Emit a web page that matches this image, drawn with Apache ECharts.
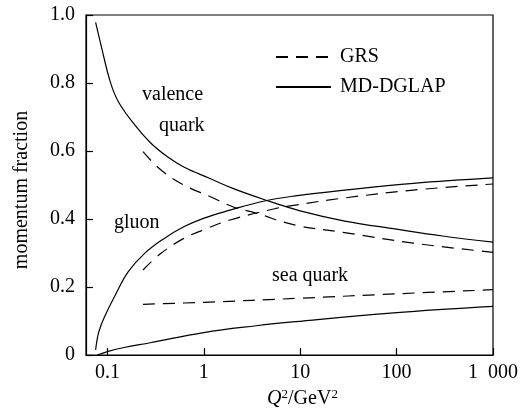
<!DOCTYPE html>
<html>
<head>
<meta charset="utf-8">
<script src="https://cdn.jsdelivr.net/npm/echarts@6/dist/echarts.min.js"></script>
<style>html,body{margin:0;padding:0;background:#fff}#c{width:521px;height:415px}</style>
</head>
<body>
<div id="c"></div>
<script>
// Q^2 (GeV^2) and momentum fraction
const mdValenceQ2 = [0.0755, 0.0883, 0.107, 0.130, 0.193, 0.285, 0.42, 0.62, 1.16, 2.0, 4.35, 10, 29, 100, 300, 1000];
const mdValence   = [0.978, 0.897, 0.804, 0.745, 0.676, 0.622, 0.583, 0.553, 0.519, 0.49, 0.456, 0.424, 0.394, 0.370, 0.35, 0.332];

const mdGluonQ2 = [0.0755, 0.0816, 0.0954, 0.1206, 0.1647, 0.2436, 0.389, 0.62, 0.99, 1.87, 4.27, 8.9, 28.9, 149, 1000];
const mdGluon   = [0.015, 0.069, 0.118, 0.176, 0.245, 0.299, 0.343, 0.377, 0.402, 0.426, 0.453, 0.468, 0.485, 0.505, 0.521];

const mdSeaQ2 = [0.0786, 0.1, 0.149, 0.278, 1.0, 3.5, 8.9, 93, 1000];
const mdSea   = [0.0, 0.01, 0.022, 0.036, 0.066, 0.086, 0.098, 0.124, 0.143];

const grsValenceQ2 = [0.234, 0.36, 0.62, 1.16, 2.0, 3.5, 8.9, 28.9, 149, 1000];
const grsValence   = [0.598, 0.544, 0.5, 0.466, 0.436, 0.417, 0.382, 0.36, 0.329, 0.302];

const grsGluonQ2 = [0.234, 0.36, 0.62, 0.99, 1.87, 5.6, 8.9, 28.9, 149, 1000];
const grsGluon   = [0.25, 0.299, 0.343, 0.368, 0.397, 0.431, 0.441, 0.462, 0.485, 0.503];

const grsSeaQ2 = [0.234, 1, 10, 100, 1000];
const grsSea   = [0.149, 0.155, 0.167, 0.18, 0.192];

const xTickLabels = {'0.1': '0.1', '1': '1', '10': '10', '100': '100', '1000': '1\u2002000'};
const legendNames = ['GRS', 'MD-DGLAP'];

const FONT = "'Liberation Serif', 'Times New Roman', serif";
const zip = (xs, ys) => xs.map((x, i) => [x, ys[i]]);

function lineSeries(name, xs, ys, dashed) {
  return {
    name: name,
    type: 'line',
    data: zip(xs, ys),
    showSymbol: false,
    symbol: 'none',
    smooth: 0.4,
    silent: true,
    lineStyle: { color: '#000', width: 1.2, type: dashed ? [12, 8] : 'solid' },
    itemStyle: { color: '#000' }
  };
}

const chart = echarts.init(document.getElementById('c'));
chart.setOption({
  animation: false,
  backgroundColor: '#fff',
  textStyle: { fontFamily: FONT, color: '#000' },
  grid: { left: 86, top: 15, width: 416, height: 340, show: true, borderColor: '#000', borderWidth: 1.2, backgroundColor: 'transparent' },
  legend: {
    data: legendNames,
    orient: 'vertical',
    left: 270,
    top: 42,
    itemWidth: 55,
    itemHeight: 20,
    itemGap: 10,
    itemStyle: { opacity: 0 },
    textStyle: { fontFamily: FONT, fontSize: 20, color: '#000', padding: [0, 0, 0, 4] },
    inactiveColor: '#000',
    selectedMode: false
  },
  xAxis: {
    type: 'log',
    logBase: 10,
    min: 0.06,
    max: 1000,
    name: '{q|Q}{sup|2}{n|/GeV}{sup|2}',
    nameLocation: 'middle',
    nameGap: 23,
    nameTextStyle: {
      fontFamily: FONT, fontSize: 20, color: '#000', padding: [0, 0, 0, 26],
      rich: {
        q: { fontFamily: FONT, fontSize: 20, fontStyle: 'italic', color: '#000', lineHeight: 22 },
        n: { fontFamily: FONT, fontSize: 20, color: '#000', lineHeight: 22 },
        sup: { fontFamily: FONT, fontSize: 13, color: '#000', verticalAlign: 'top', lineHeight: 22, padding: [0, 0, 8, 0] }
      }
    },
    axisLine: { show: true, lineStyle: { color: '#000', width: 1.2 } },
    axisTick: { show: true, inside: true, length: 7, lineStyle: { color: '#000', width: 1.2 } },
    minorTick: { show: false },
    splitLine: { show: false },
    axisLabel: {
      fontFamily: FONT, fontSize: 20, color: '#000', margin: 8,
      showMinLabel: false,
      formatter: function (v) {
        const k = String(Math.round(v * 1000) / 1000);
        return xTickLabels[k] !== undefined ? xTickLabels[k] : '';
      }
    }
  },
  yAxis: {
    type: 'value',
    min: 0,
    max: 1,
    interval: 0.2,
    name: 'momentum fraction',
    nameLocation: 'middle',
    nameGap: 54,
    nameTextStyle: { fontFamily: FONT, fontSize: 20, color: '#000', padding: [0, 10, 0, 0] },
    axisLine: { show: true, lineStyle: { color: '#000', width: 1.2 } },
    axisTick: { show: true, inside: true, length: 7, lineStyle: { color: '#000', width: 1.2 } },
    splitLine: { show: false },
    axisLabel: {
      fontFamily: FONT, fontSize: 20, color: '#000', margin: 11,
      formatter: function (v) { return v === 0 ? '0' : v.toFixed(1); }
    }
  },
  graphic: [
    { type: 'text', x: 142, y: 95, style: { text: 'valence', fontFamily: FONT, fontSize: 20, fill: '#000', verticalAlign: 'middle' } },
    { type: 'text', x: 159, y: 126, style: { text: 'quark', fontFamily: FONT, fontSize: 20, fill: '#000', verticalAlign: 'middle' } },
    { type: 'text', x: 114, y: 223, style: { text: 'gluon', fontFamily: FONT, fontSize: 20, fill: '#000', verticalAlign: 'middle' } },
    { type: 'text', x: 272, y: 276, style: { text: 'sea quark', fontFamily: FONT, fontSize: 20, fill: '#000', verticalAlign: 'middle' } }
  ],
  series: [
    lineSeries('GRS', grsValenceQ2, grsValence, true),
    lineSeries('GRS', grsGluonQ2, grsGluon, true),
    lineSeries('GRS', grsSeaQ2, grsSea, true),
    lineSeries('MD-DGLAP', mdValenceQ2, mdValence, false),
    lineSeries('MD-DGLAP', mdGluonQ2, mdGluon, false),
    lineSeries('MD-DGLAP', mdSeaQ2, mdSea, false)
  ]
});
</script>
</body>
</html>
